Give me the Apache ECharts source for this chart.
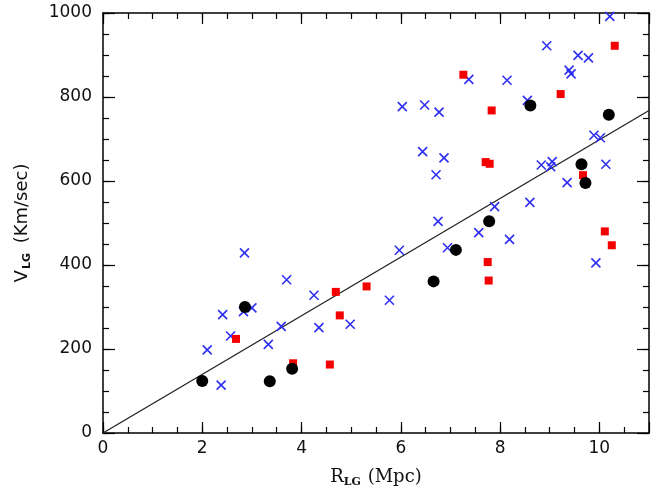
<!DOCTYPE html>
<html lang="en" style="height: 100%">
<head>
  <meta charset="utf-8">
</head>
<body style="height: 100%; margin: 0; background: #fff">
<div id="container" style="width: 663px; height: 491px"></div>
<script type="text/javascript" src="https://cdn.jsdelivr.net/npm/echarts@6/dist/echarts.min.js"></script>
<script type="text/javascript">
// group 1: black circles
var blackR = [2.00, 2.86, 3.36, 3.81, 6.66, 7.11, 7.78, 8.61, 9.64, 9.72, 10.19];
var blackV = [124, 300, 123, 153, 361, 436, 504, 780, 640, 595, 758];
// group 2: red squares
var redR = [2.68, 3.83, 4.57, 4.69, 4.77, 5.31, 7.75, 7.77, 7.71, 7.79, 7.26, 7.83, 9.22, 9.67, 10.31, 10.11, 10.25];
var redV = [224, 166, 163, 336, 280, 349, 407, 363, 645, 641, 853, 768, 807, 614, 922, 480, 447];
// group 3: blue crosses
var blueR = [2.10, 2.38, 2.41, 2.57, 2.85, 2.83, 3.00, 3.33, 3.59, 3.70, 4.25, 4.35, 4.98,
  5.77, 5.97, 6.75, 6.94, 7.57, 7.89, 8.19, 8.60, 9.93,
  6.03, 6.48, 6.77, 6.44, 6.87, 6.71, 7.37, 8.14, 8.55, 8.94, 8.83, 9.05, 9.02, 9.35,
  9.39, 9.43, 9.57, 9.78, 9.89, 10.02, 10.13, 10.21];
var blueV = [198, 114, 282, 231, 429, 289, 298, 211, 254, 365, 328, 251, 259,
  316, 435, 504, 441, 477, 539, 461, 549, 405,
  777, 781, 764, 670, 655, 615, 842, 840, 792, 922, 638, 646, 634, 596,
  864, 855, 899, 893, 709, 703, 640, 992];
// fitted line
var lineR = [0, 11];
var lineV = [0, 768];

function pairs(xs, ys) {
  return xs.map(function (x, i) { return [x, ys[i]]; });
}

var myChart = echarts.init(document.getElementById('container'), null, { renderer: 'canvas' });

var labelFont = { fontSize: 17, color: '#111', fontFamily: 'DejaVu Sans' };
var xRich = {
  a: { fontSize: 18, fontFamily: 'DejaVu Serif', color: '#111' },
  b: { fontSize: 11, fontFamily: 'DejaVu Serif', fontWeight: 'bold', color: '#111', verticalAlign: 'bottom', padding: [10, 1, 0, 0] }
};
var yRich = {
  a: { fontSize: 18, fontFamily: 'DejaVu Sans', color: '#111' },
  b: { fontSize: 11, fontFamily: 'DejaVu Sans', fontWeight: 'bold', color: '#111', verticalAlign: 'bottom', padding: [10, 4, 0, 1] }
};

function xAxisDef(pos, interval, tickLen, showLabel, showLine) {
  return {
    type: 'value', position: pos, min: 0, max: 11, interval: interval,
    axisLine: { show: showLine, onZero: false, lineStyle: { color: '#000', width: 1.5 } },
    axisTick: { show: true, inside: true, length: tickLen, lineStyle: { color: '#000', width: 1.2 } },
    axisLabel: showLabel ? Object.assign({
      margin: 7, showMaxLabel: false,
      formatter: function (v) { return v % 2 === 0 ? String(v) : ''; }
    }, labelFont) : { show: false },
    splitLine: { show: false }
  };
}
function yAxisDef(pos, interval, tickLen, showLabel, showLine) {
  return {
    type: 'value', position: pos, min: 0, max: 1000, interval: interval,
    axisLine: { show: showLine, onZero: false, lineStyle: { color: '#000', width: 1.5 } },
    axisTick: { show: true, inside: true, length: tickLen, lineStyle: { color: '#000', width: 1.2 } },
    axisLabel: showLabel ? Object.assign({
      margin: 11,
      formatter: function (v) { return v % 200 === 0 ? String(v) : ''; }
    }, labelFont) : { show: false },
    splitLine: { show: false }
  };
}

var xAxes = [
  xAxisDef('bottom', 0.5, 6, true, true),
  xAxisDef('bottom', 2, 11, false, false),
  xAxisDef('top', 0.5, 6, false, true),
  xAxisDef('top', 2, 11, false, false)
];
xAxes[0].name = '{a|R}{b|LG}{a| (Mpc)}';
xAxes[0].nameLocation = 'middle';
xAxes[0].nameGap = 34;
xAxes[0].nameTextStyle = { rich: xRich };

var yAxes = [
  yAxisDef('left', 50, 6, true, true),
  yAxisDef('left', 200, 12, false, false),
  yAxisDef('right', 50, 6, false, true),
  yAxisDef('right', 200, 12, false, false)
];
yAxes[0].name = '{a|V}{b|LG}{a| (Km/sec)}';
yAxes[0].nameLocation = 'middle';
yAxes[0].nameGap = 70;
yAxes[0].nameTextStyle = { rich: yRich };

var option = {
  animation: false,
  backgroundColor: '#fff',
  grid: { left: 103, right: 14, top: 13, bottom: 58, containLabel: false, outerBoundsMode: 'none' },
  xAxis: xAxes,
  yAxis: yAxes,
  series: [
    {
      type: 'line', data: pairs(lineR, lineV), symbol: 'none',
      lineStyle: { color: '#222', width: 1.3 }, z: 1
    },
    {
      type: 'scatter', data: pairs(blueR, blueV),
      symbol: 'path://M0,0L10,10M10,0L0,10', symbolSize: 9,
      itemStyle: { color: 'none', borderColor: '#2f2ff2', borderWidth: 1.6, opacity: 1 }, z: 2
    },
    {
      type: 'scatter', data: pairs(redR, redV),
      symbol: 'rect', symbolSize: 8,
      itemStyle: { color: '#f40000', opacity: 1 }, z: 3
    },
    {
      type: 'scatter', data: pairs(blackR, blackV),
      symbol: 'circle', symbolSize: 12,
      itemStyle: { color: '#000', opacity: 1 }, z: 4
    }
  ]
};
myChart.setOption(option);
window.addEventListener('resize', myChart.resize);
</script>
</body>
</html>
